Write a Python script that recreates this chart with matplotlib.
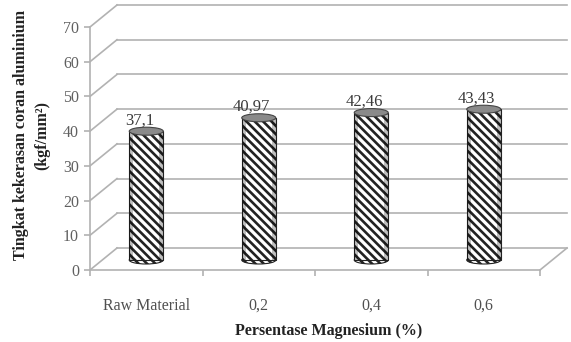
import matplotlib
matplotlib.use('Agg')
import matplotlib.pyplot as plt
from matplotlib.patches import Rectangle, Ellipse

plt.rcParams['font.family'] = ['Liberation Serif', 'DejaVu Serif']
plt.rcParams['hatch.linewidth'] = 1.9

# data
categories = ['Raw Material', '0,2', '0,4', '0,6']
values = [37.1, 40.97, 42.46, 43.43]
value_labels = ['37,1', '40,97', '42,46', '43,43']
yticks = [0, 10, 20, 30, 40, 50, 60, 70]

fig = plt.figure(figsize=(5.71, 3.42), dpi=100)
# front plane of the 3d box in pixels: x 90..540, y 270 (0) .. 27 (70)
ax = fig.add_axes([90 / 571, 1 - 270 / 342, 450 / 571, 243 / 342])
ax.set_xlim(-0.5, 3.5)
ax.set_ylim(0, 70)

px_x = 450 / 4       # pixels per category
px_y = 243 / 70      # pixels per unit
dx = 27 / px_x       # depth of the box in data units
dy = 22 / px_y

grid_c = '#b2b2b2'
lw = 1.2

# back wall gridlines + side wall diagonals
for v in yticks:
    ax.plot([-0.5 + dx, 3.5 + dx], [v + dy, v + dy], color=grid_c, lw=lw, clip_on=False, zorder=1)
    ax.plot([-0.5, -0.5 + dx], [v, v + dy], color=grid_c, lw=lw, clip_on=False, zorder=1)
# floor right edge
ax.plot([3.5, 3.5 + dx], [0, dy], color=grid_c, lw=lw, clip_on=False, zorder=1)

for s in ['top', 'right']:
    ax.spines[s].set_visible(False)
for s in ['left', 'bottom']:
    ax.spines[s].set_color(grid_c)
    ax.spines[s].set_linewidth(lw)

ax.set_yticks(yticks)
ax.tick_params(axis='y', direction='out', length=4, width=lw, color=grid_c,
               labelsize=11.5, labelcolor='#606060', pad=4)
ax.set_xticks([-0.5, 0.5, 1.5, 2.5, 3.5])
ax.set_xticklabels([])
ax.tick_params(axis='x', which='major', direction='out', length=4, width=lw, color=grid_c)
ax.set_xticks(range(len(categories)), minor=True)
ax.set_xticklabels(categories, minor=True)
ax.tick_params(axis='x', which='minor', length=0, pad=20, labelsize=11.5, labelcolor='#505050')

# cylinders
w = 34 / px_x
eh = 8 / px_y
base = dy / 2 - 1 / px_y
hatch = '\\\\\\\\'
for i, v in enumerate(values):
    ax.add_patch(Ellipse((i, base), w, eh, facecolor='white', edgecolor='#222222',
                         hatch=hatch, lw=0.8, zorder=3, clip_on=False))
    ax.add_patch(Rectangle((i - w / 2, base), w, v, facecolor='white', edgecolor='#222222',
                           hatch=hatch, lw=0.8, zorder=4, clip_on=False))
    # side shading
    ax.add_patch(Rectangle((i - w / 2, base), w * 0.12, v, facecolor='#000000', alpha=0.25,
                           lw=0, zorder=5, clip_on=False))
    ax.add_patch(Rectangle((i + w / 2 - w * 0.12, base), w * 0.12, v, facecolor='#000000', alpha=0.25,
                           lw=0, zorder=5, clip_on=False))
    ax.add_patch(Ellipse((i, base + v), w, eh, facecolor='#8a8a8a', edgecolor='#444444',
                         lw=0.8, zorder=6, clip_on=False))
    ax.text(i - 7 / px_x, base + v + 11 / px_y, value_labels[i], ha='center', va='center',
            fontsize=12, color='#3a3a3a', zorder=7)

fig.text(329 / 571, 1 - 331 / 342, 'Persentase Magnesium (%)', ha='center', va='center',
         fontsize=11.5, fontweight='bold', color='#222222')
fig.text(32 / 571, 1 - 135 / 342, 'Tingkat kekerasan coran aluminium\n(kgf/mm²)',
         rotation=90, ha='center', va='center', multialignment='center',
         fontsize=11.5, fontweight='bold', color='#222222', linespacing=1.45)

fig.savefig('out.png', dpi=100)
